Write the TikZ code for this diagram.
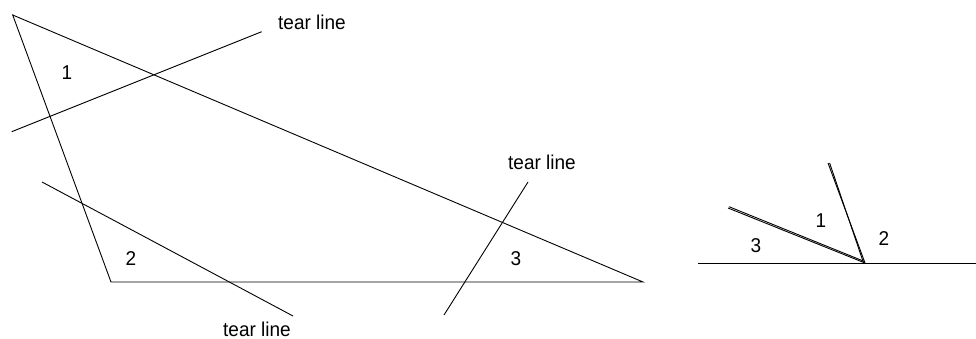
\documentclass[tikz,border=0pt]{standalone}
\usepackage{fontspec}
\newfontfamily\labfont[FakeStretch=0.95]{Liberation Sans}
\begin{document}
\begin{tikzpicture}[x=1pt,y=-1pt,
  edge/.style={line width=0.9pt, black},
  dbl/.style={line width=0.9pt, black},
  lab/.style={font=\labfont\fontsize{20}{24}\selectfont, anchor=base, inner sep=0pt}]
\useasboundingbox (0,0) rectangle (976,339);
% triangle
\coordinate (A) at (12.7,15);
\coordinate (B) at (111,282);
\coordinate (C) at (643,282);
\draw[edge] (A) -- (B) -- (C) -- cycle;
% tear lines
\coordinate (t1a) at (11.7,131.7);
\coordinate (t1b) at (261.7,31.7);
\coordinate (t2a) at (42,182);
\coordinate (t2b) at (293,316);
\coordinate (t3a) at (444,315);
\coordinate (t3b) at (528,182);
\draw[edge] (t1a) -- (t1b);
\draw[edge] (t2a) -- (t2b);
\draw[edge] (t3a) -- (t3b);
% labels
\node[lab] (l1) at (312,30) {tear line};
\node[lab] (l2) at (257,336) {tear line};
\node[lab] (l3) at (542,170) {tear line};
\node[lab] (n1) at (67,80) {1};
\node[lab] (n2) at (131,265) {2};
\node[lab] (n3) at (516,265) {3};
% right figure
\coordinate (H1) at (698,263);
\coordinate (H2) at (976,263);
\coordinate (V) at (865,263);
\coordinate (P1) at (728,208);
\coordinate (P2) at (828,163);
\draw[edge] (H1) -- (H2);
\draw[dbl] (V) -- (P1);
\draw[dbl] ([shift={(0,-1.3)}]V) -- ([shift={(1,-1.3)}]P1);
\draw[dbl] (V) -- (P2);
\draw[dbl] ([shift={(-1.4,0)}]V) -- ([shift={(1.6,0)}]P2);
\node[lab] (r3) at (756,252) {3};
\node[lab] (r1) at (821,227) {1};
\node[lab] (r2) at (884,245) {2};
\end{tikzpicture}
\end{document}
